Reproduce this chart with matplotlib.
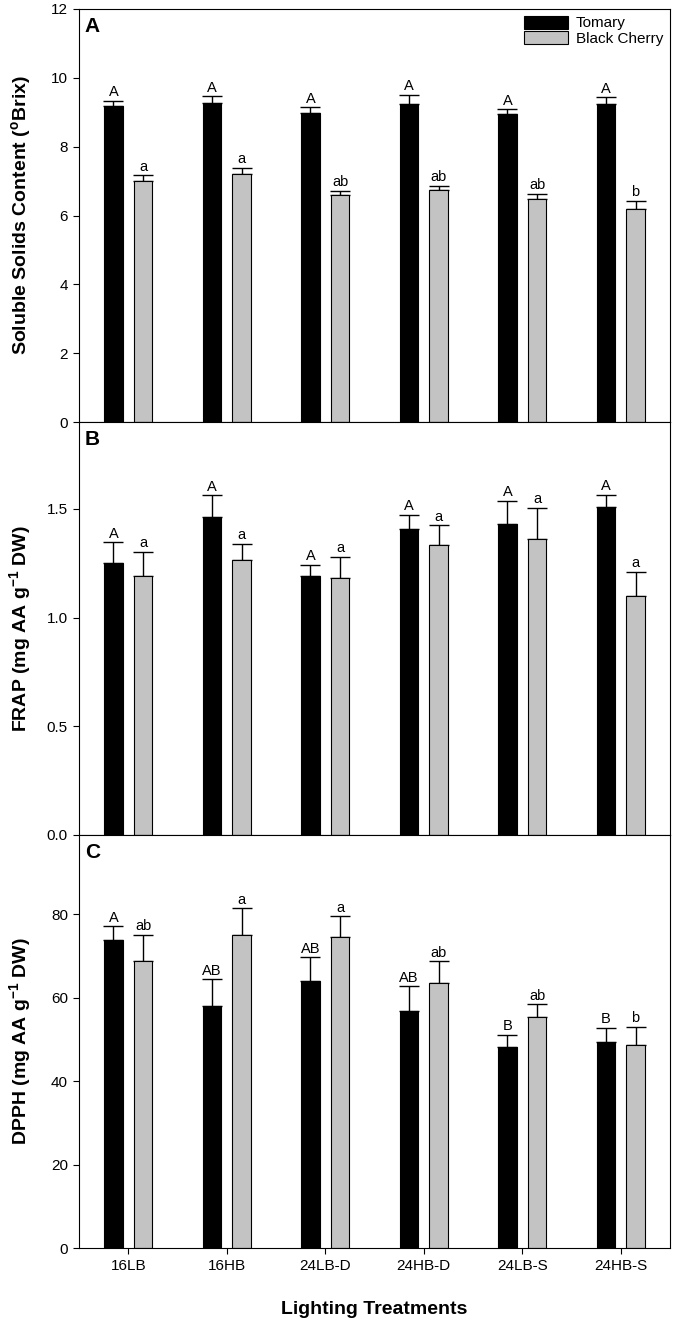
import numpy as np
import matplotlib
matplotlib.use("Agg")
import matplotlib.pyplot as plt

plt.rcParams['font.family'] = ['Liberation Sans', 'DejaVu Sans']
plt.rcParams['mathtext.default'] = 'regular'

treatments = ['16LB', '16HB', '24LB-D', '24HB-D', '24LB-S', '24HB-S']

# panel A - soluble solids
ssc_tom = [9.18, 9.28, 8.97, 9.24, 8.95, 9.25]
ssc_tom_err = [0.16, 0.18, 0.17, 0.26, 0.13, 0.18]
ssc_bc = [7.00, 7.21, 6.61, 6.73, 6.47, 6.19]
ssc_bc_err = [0.17, 0.17, 0.10, 0.14, 0.16, 0.23]
ssc_tom_let = ['A', 'A', 'A', 'A', 'A', 'A']
ssc_bc_let = ['a', 'a', 'ab', 'ab', 'ab', 'b']

# panel B - FRAP
frap_tom = [1.25, 1.465, 1.19, 1.41, 1.43, 1.507]
frap_tom_err = [0.097, 0.097, 0.052, 0.062, 0.106, 0.058]
frap_bc = [1.19, 1.266, 1.184, 1.336, 1.364, 1.10]
frap_bc_err = [0.114, 0.072, 0.096, 0.088, 0.14, 0.112]
frap_tom_let = ['A', 'A', 'A', 'A', 'A', 'A']
frap_bc_let = ['a', 'a', 'a', 'a', 'a', 'a']

# panel C - DPPH
dpph_tom = [73.9, 58.0, 64.1, 56.9, 48.1, 49.5]
dpph_tom_err = [3.2, 6.4, 5.6, 5.8, 3.0, 3.2]
dpph_bc = [68.8, 75.1, 74.5, 63.5, 55.4, 48.7]
dpph_bc_err = [6.2, 6.3, 5.0, 5.2, 3.0, 4.3]
dpph_tom_let = ['A', 'AB', 'AB', 'AB', 'B', 'B']
dpph_bc_let = ['ab', 'a', 'a', 'ab', 'ab', 'b']

panels = [
    ('A', ssc_tom, ssc_tom_err, ssc_bc, ssc_bc_err, ssc_tom_let, ssc_bc_let,
     'Soluble Solids Content ($^{o}$Brix)', 12, np.arange(0, 13, 2), '%d'),
    ('B', frap_tom, frap_tom_err, frap_bc, frap_bc_err, frap_tom_let, frap_bc_let,
     'FRAP (mg AA g$^{-1}$ DW)', 1.9, [0.0, 0.5, 1.0, 1.5], '%.1f'),
    ('C', dpph_tom, dpph_tom_err, dpph_bc, dpph_bc_err, dpph_tom_let, dpph_bc_let,
     'DPPH (mg AA g$^{-1}$ DW)', 99, [0, 20, 40, 60, 80], '%d'),
]

fig = plt.figure(figsize=(6.74, 13.2), dpi=100)
left, width = 79/674, 591/674
h = 413/1320
bottoms = [1 - 422/1320, 1 - 835/1320, 1 - 1248/1320]

x = np.arange(len(treatments))
bw = 0.185
off = 0.15
gray = '#c3c3c3'

for k, (lab, tom, tom_err, bc, bc_err, tl, bl, ylab, ymax, yt, fmt) in enumerate(panels):
    ax = fig.add_axes([left, bottoms[k], width, h])
    ax.bar(x - off, tom, bw, color='black', edgecolor='black', linewidth=0.8, label='Tomary', zorder=2)
    ax.bar(x + off, bc, bw, color=gray, edgecolor='black', linewidth=0.8, label='Black Cherry', zorder=2)
    z = np.zeros(len(x))
    ax.errorbar(x - off, tom, yerr=[z, tom_err], fmt='none', ecolor='black', elinewidth=1, capsize=7, capthick=1, zorder=1)
    ax.errorbar(x + off, bc, yerr=[z, bc_err], fmt='none', ecolor='black', elinewidth=1, capsize=7, capthick=1, zorder=1)
    for i in range(len(x)):
        ax.annotate(tl[i], (x[i] - off, tom[i] + tom_err[i]), xytext=(0, 1.2),
                    textcoords='offset points', ha='center', va='bottom', fontsize=10.5)
        ax.annotate(bl[i], (x[i] + off, bc[i] + bc_err[i]), xytext=(0, 1.2),
                    textcoords='offset points', ha='center', va='bottom', fontsize=10.5)
    ax.set_xlim(-0.5, 5.5)
    ax.set_ylim(0, ymax)
    ax.set_yticks(yt)
    ax.set_yticklabels([fmt % v for v in yt], fontsize=11)
    ax.set_xticks(x)
    ax.tick_params(direction='out', length=4.5, width=0.8)
    ax.set_ylabel(ylab, fontsize=14, fontweight='bold')
    ax.yaxis.set_label_coords(-0.077, 0.5)
    ax.text(0.01, 0.98, lab, transform=ax.transAxes, fontsize=15, fontweight='bold', va='top', ha='left')
    for s in ax.spines.values():
        s.set_linewidth(0.8)
    if k == 0:
        ax.legend(loc='upper right', frameon=False, fontsize=11, handlelength=2.9, handleheight=0.9,
                  borderaxespad=0.15, borderpad=0.3, labelspacing=0.05, handletextpad=0.5)
    if k < 2:
        ax.set_xticklabels([])
    else:
        ax.set_xticklabels(treatments, fontsize=11)
        ax.set_xlabel('Lighting Treatments', fontsize=14, fontweight='bold', labelpad=20)

fig.savefig('out.png', dpi=100)
